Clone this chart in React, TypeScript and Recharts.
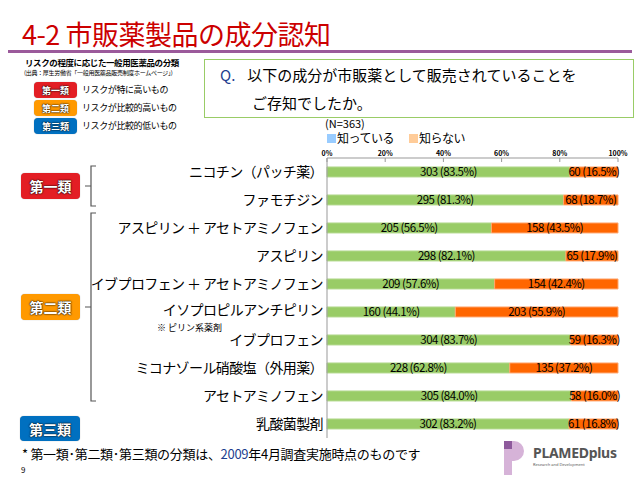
import React from "react";
import { BarChart, Bar, XAxis, YAxis, LabelList } from "recharts";

const categories = [
  "ニコチン（パッチ薬）",
  "ファモチジン",
  "アスピリン ＋ アセトアミノフェン",
  "アスピリン",
  "イブプロフェン ＋ アセトアミノフェン",
  "イソプロピルアンチピリン",
  "イブプロフェン",
  "ミコナゾール硝酸塩（外用薬）",
  "アセトアミノフェン",
  "乳酸菌製剤",
];
const knownCount = [303, 295, 205, 298, 209, 160, 304, 228, 305, 302];
const unknownCount = [60, 68, 158, 65, 154, 203, 59, 135, 58, 61];
const knownPct = [83.5, 81.3, 56.5, 82.1, 57.6, 44.1, 83.7, 62.8, 84.0, 83.2];
const unknownPct = [16.5, 18.7, 43.5, 17.9, 42.4, 55.9, 16.3, 37.2, 16.0, 16.8];
const xTicks = [0, 20, 40, 60, 80, 100];

const FONT = "'Noto Sans CJK JP', 'Noto Sans', sans-serif";

const rows = categories.map((name, i) => ({
  name,
  known: knownPct[i],
  unknown: unknownPct[i],
  knownLabel: `${knownCount[i]} (${knownPct[i].toFixed(1)}%)`,
  unknownLabel: `${unknownCount[i]} (${unknownPct[i].toFixed(1)}%)`,
}));

function CategoryTick(props: any) {
  const { x, y, payload } = props;
  const hasNote = payload.value === "イソプロピルアンチピリン";
  return (
    <g>
      <text x={x} y={y} dy={hasNote ? 3 : 5} textAnchor="end" fontSize={14} letterSpacing={-0.6} fill="#000" fontFamily={FONT}>
        {payload.value}
      </text>
      {hasNote && (
        <text x={x - 166} y={y + 19} fontSize={9} fill="#000" fontFamily={FONT}>
          ※ ピリン系薬剤
        </text>
      )}
    </g>
  );
}

// centred value label that is allowed to spill past a narrow bar
function BarValue(props: any) {
  const { x, y, width, height, value } = props;
  return (
    <text
      x={x + width / 2}
      y={y + height / 2}
      dy={4}
      textAnchor="middle"
      fontSize={11.5}
      letterSpacing={-0.5}
      fill="#000"
      fontFamily={FONT}
    >
      {value}
    </text>
  );
}

function Badge({ label, color, left, top, w, h, fs }: any) {
  return (
    <div
      style={{
        position: "absolute",
        left,
        top,
        width: w,
        height: h,
        background: color,
        borderRadius: 4,
        color: "#fff",
        fontWeight: 700,
        fontSize: fs,
        fontFamily: FONT,
        display: "flex",
        alignItems: "center",
        justifyContent: "center",
        textShadow: "0 0 2px #000, 0 0 1px #000",
        boxShadow: "0 0 1px rgba(0,0,0,0.4)",
      }}
    >
      {label}
    </div>
  );
}

export default function App() {
  return (
    <div style={{ position: "absolute", left: 0, top: 0, width: 640, height: 480, background: "#fff", fontFamily: FONT, overflow: "hidden" }}>
      {/* title */}
      <div style={{ position: "absolute", left: 22, top: 14, fontSize: 27, color: "#cc0000", letterSpacing: -0.5, whiteSpace: "nowrap" }}>
        4-2 市販薬製品の成分認知
      </div>
      <div style={{ position: "absolute", left: 8, top: 50, width: 624, height: 3, background: "#9b5a9b" }} />

      {/* classification legend */}
      <div style={{ position: "absolute", left: 25, top: 56, fontSize: 8.5, fontWeight: 700, whiteSpace: "nowrap", letterSpacing: -0.4 }}>
        リスクの程度に応じた一般用医薬品の分類
      </div>
      <div style={{ position: "absolute", left: 24, top: 68, fontSize: 6, whiteSpace: "nowrap", letterSpacing: -0.3 }}>
        (出典：厚生労働省「一般用医薬品販売制度ホームページ」)
      </div>
      <Badge label="第一類" color="#e31e24" left={34} top={82} w={43} h={16} fs={9} />
      <Badge label="第二類" color="#ff9900" left={34} top={100} w={43} h={16} fs={9} />
      <Badge label="第三類" color="#0070c0" left={34} top={118} w={43} h={16} fs={9} />
      <div style={{ position: "absolute", left: 82, top: 83, fontSize: 9, lineHeight: "14px", whiteSpace: "nowrap", letterSpacing: -0.4 }}>リスクが特に高いもの</div>
      <div style={{ position: "absolute", left: 82, top: 101, fontSize: 9, lineHeight: "14px", whiteSpace: "nowrap", letterSpacing: -0.4 }}>リスクが比較的高いもの</div>
      <div style={{ position: "absolute", left: 82, top: 119, fontSize: 9, lineHeight: "14px", whiteSpace: "nowrap", letterSpacing: -0.4 }}>リスクが比較的低いもの</div>

      {/* question box */}
      <div style={{ position: "absolute", left: 204, top: 59, width: 428, height: 57, border: "1px solid #99cc66" }} />
      <div style={{ position: "absolute", left: 220, top: 64, fontSize: 15, whiteSpace: "nowrap", letterSpacing: 0 }}>
        <span style={{ color: "#1f3f8f" }}>Q.</span>
        <span style={{ marginLeft: 12 }}>以下の成分が市販薬として販売されていることを</span>
      </div>
      <div style={{ position: "absolute", left: 252, top: 92, fontSize: 15, whiteSpace: "nowrap", letterSpacing: 0 }}>ご存知でしたか。</div>

      <div style={{ position: "absolute", left: 325, top: 117, fontSize: 11, lineHeight: "12px", whiteSpace: "nowrap" }}>(N=363)</div>
      {/* series legend */}
      <div style={{ position: "absolute", left: 327, top: 134, width: 9, height: 9, background: "#99ccff" }} />
      <div style={{ position: "absolute", left: 337, top: 132, fontSize: 12, lineHeight: "12px", whiteSpace: "nowrap", letterSpacing: -0.5 }}>知っている</div>
      <div style={{ position: "absolute", left: 409, top: 134, width: 9, height: 9, background: "#ffcc99" }} />
      <div style={{ position: "absolute", left: 419, top: 132, fontSize: 12, lineHeight: "12px", whiteSpace: "nowrap", letterSpacing: -0.5 }}>知らない</div>

      <div style={{ position: "absolute", left: 0, top: 0 }}>
        <BarChart
          width={640}
          height={480}
          data={rows}
          layout="vertical"
          margin={{ top: 146, right: 22, bottom: 42, left: 0 }}
          barCategoryGap="32%"
        >
          <XAxis
            type="number"
            orientation="top"
            domain={[0, 100]}
            ticks={xTicks}
            tickFormatter={(v) => `${v}%`}
            height={12}
            tickSize={-4}
            tickMargin={6}
            axisLine={{ stroke: "#999" }}
            tickLine={{ stroke: "#999" }}
            tick={{ fontSize: 7, fontWeight: 700, fill: "#000", fontFamily: FONT }}
            interval={0}
          />
          <YAxis
            type="category"
            dataKey="name"
            width={327}
            tickSize={0}
            tickMargin={4}
            axisLine={{ stroke: "#999" }}
            tickLine={false}
            tick={<CategoryTick />}
            interval={0}
          />
          <Bar dataKey="known" stackId="a" fill="#99cc66" stroke="#b5d98f" strokeWidth={1} isAnimationActive={false}>
            <LabelList dataKey="knownLabel" content={<BarValue />} />
          </Bar>
          <Bar dataKey="unknown" stackId="a" fill="#ff6600" stroke="#ffa870" strokeWidth={1} isAnimationActive={false}>
            <LabelList dataKey="unknownLabel" content={<BarValue />} />
          </Bar>
        </BarChart>
      </div>

      {/* group brackets */}
      <svg width={640} height={480} style={{ position: "absolute", left: 0, top: 0, pointerEvents: "none" }}>
        <path d="M96 166 H91 V206 H96 M91 186 H85" fill="none" stroke="#555" strokeWidth={1.2} />
        <path d="M96 213 H91 V401 H96 M91 307 H85" fill="none" stroke="#555" strokeWidth={1.2} />
      </svg>
      <Badge label="第一類" color="#e31e24" left={21} top={173} w={59} h={26} fs={14} />
      <Badge label="第二類" color="#ff9900" left={21} top={294} w={59} h={26} fs={14} />
      <Badge label="第三類" color="#0070c0" left={20} top={416} w={60} h={25} fs={14} />

      {/* footnote */}
      <div style={{ position: "absolute", left: 22, top: 446, fontSize: 13, lineHeight: "15px", whiteSpace: "nowrap", letterSpacing: -0.3 }}>
        * 第一類･第二類･第三類の分類は、<span style={{ color: "#1f3f8f" }}>2009</span>年4月調査実施時点のものです
      </div>
      <div style={{ position: "absolute", left: 21, top: 465, fontSize: 8, lineHeight: "9px" }}>9</div>

      {/* logo */}
      <div style={{ position: "absolute", left: 504, top: 441, width: 8, height: 8, background: "#8e5a9c" }} />
      <div style={{ position: "absolute", left: 504, top: 449, width: 8, height: 26, background: "#d6b3d8" }} />
      <div style={{ position: "absolute", left: 512, top: 441, width: 12, height: 20, background: "#d6b3d8", borderRadius: "0 10px 10px 0" }} />
      <div style={{ position: "absolute", left: 533, top: 443, fontSize: 14, fontWeight: 700, color: "#555", fontFamily: "'Noto Sans', sans-serif", letterSpacing: -0.3 }}>PLAMEDplus</div>
      <div style={{ position: "absolute", left: 533, top: 462, fontSize: 4, color: "#555", fontFamily: "'Noto Sans', sans-serif" }}>Research and Development</div>
    </div>
  );
}
